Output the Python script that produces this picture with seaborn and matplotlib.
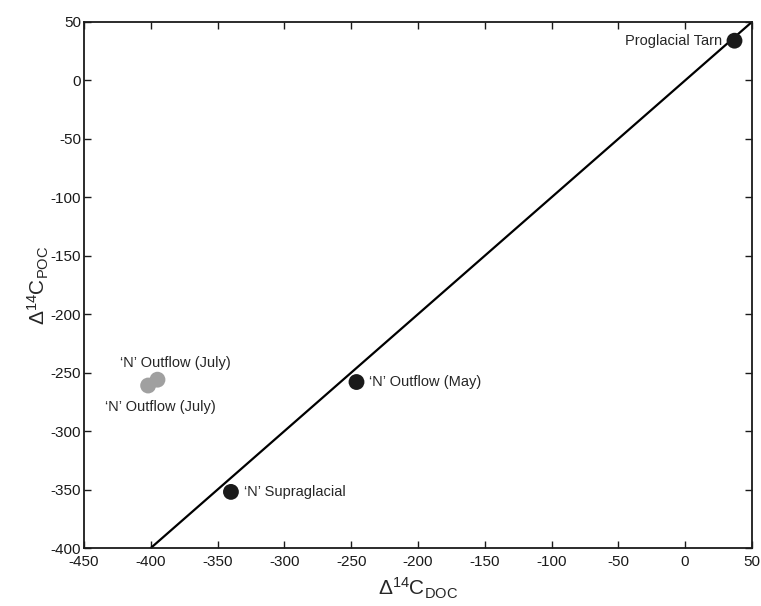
import numpy as np
import pandas as pd
import matplotlib
matplotlib.use("Agg")
import matplotlib.pyplot as plt
import seaborn as sns

# values
doc_black = [37, -246, -340]
poc_black = [34, -258, -352]
labels_black = ["Proglacial Tarn", "\u2018N\u2019 Outflow (May)", "\u2018N\u2019 Supraglacial"]

doc_grey = [-402, -395]
poc_grey = [-261, -256]
labels_grey = ["\u2018N\u2019 Outflow (July)", "\u2018N\u2019 Outflow (July)"]

line_x = [-400, 50]
line_y = [-400, 50]

xticks = list(range(-450, 51, 50))
yticks = list(range(-400, 51, 50))

sns.set_style("ticks")
plt.rcParams["font.family"] = ["Liberation Sans", "DejaVu Sans"]
plt.rcParams["mathtext.fontset"] = "custom"
plt.rcParams["mathtext.rm"] = "Liberation Sans"
plt.rcParams["mathtext.it"] = "Liberation Sans"
plt.rcParams["axes.unicode_minus"] = False

fig = plt.figure(figsize=(7.61, 6.06), dpi=100)
ax = fig.add_axes([0.1104, 0.0957, 0.8776, 0.868])

df_line = pd.DataFrame({"doc": line_x, "poc": line_y})
sns.lineplot(data=df_line, x="doc", y="poc", color="black", linewidth=1.6, ax=ax)

df_b = pd.DataFrame({"doc": doc_black, "poc": poc_black})
df_g = pd.DataFrame({"doc": doc_grey, "poc": poc_grey})
sns.scatterplot(data=df_g, x="doc", y="poc", color="#a0a0a0", s=130, edgecolor="none", ax=ax, zorder=3)
sns.scatterplot(data=df_b, x="doc", y="poc", color="#1a1a1a", s=130, edgecolor="none", ax=ax, zorder=4, clip_on=False)

# label offsets in pixels (style)
offs_black = [(-12, 0, "right"), (13, 0, "left"), (13, 0, "left")]
for x, y, t, (dx, dy, ha) in zip(doc_black, poc_black, labels_black, offs_black):
    ax.annotate(t, (x, y), xytext=(dx, dy), textcoords="offset pixels",
                ha=ha, va="center", fontsize=10.5)
offs_grey = [(12, -21), (18, 17)]
for x, y, t, (dx, dy) in zip(doc_grey, poc_grey, labels_grey, offs_grey):
    ax.annotate(t, (x, y), xytext=(dx, dy), textcoords="offset pixels",
                ha="center", va="center", fontsize=10.5)

ax.set_xlim(-450, 50)
ax.set_ylim(-400, 50)
ax.set_xticks(xticks)
ax.set_yticks(yticks)
ax.tick_params(direction="in", length=5, width=1, labelsize=11,
               top=True, right=True, colors="#1a1a1a")
ax.tick_params(axis="x", pad=5)
ax.tick_params(axis="y", pad=2)
for s in ax.spines.values():
    s.set_linewidth(1.3)
    s.set_color("#1a1a1a")

ax.set_xlabel(r"$\Delta^{14}\mathrm{C}_{\mathrm{DOC}}$", fontsize=15, labelpad=5)
ax.set_ylabel(r"$\Delta^{14}\mathrm{C}_{\mathrm{POC}}$", fontsize=15, labelpad=0)

fig.savefig("out.png", dpi=100)
